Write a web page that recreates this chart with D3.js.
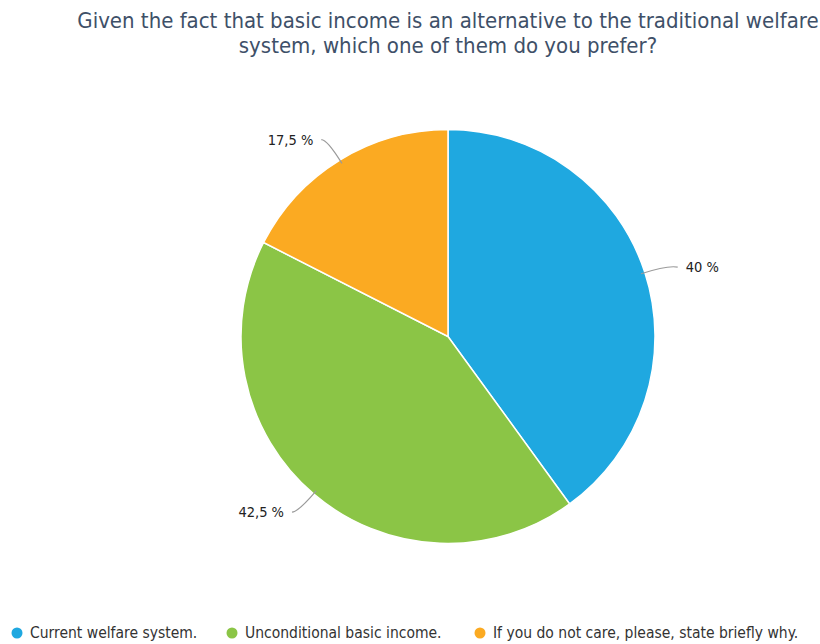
<!DOCTYPE html>
<html>
<head>
<meta charset="utf-8">
<script src="https://cdn.jsdelivr.net/npm/d3@7"></script>
<style>
  html, body { margin: 0; padding: 0; background: #ffffff; }
  svg { display: block; }
</style>
</head>
<body>
<div id="chart"></div>
<script>
// Survey answers and their shares (percent)
const categories = [
  "Current welfare system.",
  "Unconditional basic income.",
  "If you do not care, please, state briefly why."
];
const shares = [40, 42.5, 17.5];
const shareLabels = ["40 %", "42,5 %", "17,5 %"];
const colors = ["#1fa8e0", "#8bc546", "#fbaa22"];
const titleLines = [
  "Given the fact that basic income is an alternative to the traditional welfare",
  "system, which one of them do you prefer?"
];

const width = 820, height = 644;
const cx = 448, cy = 336.5, radius = 207;
const font = "'DejaVu Sans Condensed', 'DejaVu Sans', sans-serif";

const svg = d3.select("#chart").append("svg")
  .attr("width", width).attr("height", height);

// Title
const title = svg.append("text")
  .attr("text-anchor", "middle")
  .attr("font-family", font)
  .attr("font-stretch", "condensed")
  .attr("font-size", 22)
  .attr("fill", "#3e5068");
title.selectAll("tspan").data(titleLines).join("tspan")
  .attr("x", cx)
  .attr("y", (d, i) => 28 + i * 25)
  .text(d => d);

const data = categories.map((c, i) => ({ name: c, value: shares[i], label: shareLabels[i], color: colors[i] }));

const pie = d3.pie().value(d => d.value).sort(null);
const arcs = pie(data);
const arc = d3.arc().innerRadius(0).outerRadius(radius);

const g = svg.append("g").attr("transform", `translate(${cx},${cy})`);

// Slices
g.selectAll("path.slice").data(arcs).join("path")
  .attr("class", "slice")
  .attr("d", arc)
  .attr("fill", d => d.data.color)
  .attr("stroke", "#ffffff")
  .attr("stroke-width", 1.5);

// Leader lines and value labels
function polar(r, a) { return [r * Math.sin(a), -r * Math.cos(a)]; }
const labelInfo = arcs.map(d => {
  const mid = (d.startAngle + d.endAngle) / 2;
  const p0 = polar(radius - 4, mid);
  const p1 = polar(radius + 24, mid);
  const side = Math.sin(mid) >= 0 ? 1 : -1;
  const p2 = side > 0 ? [p1[0] + 10, p1[1] + 2] : [p1[0] - 6, p1[1]];
  return { d, p0, p1, p2, side };
});

g.selectAll("path.leader").data(labelInfo).join("path")
  .attr("class", "leader")
  .attr("fill", "none")
  .attr("stroke", "#9a9a9a")
  .attr("stroke-width", 1.2)
  .attr("d", l => `M${l.p0[0]},${l.p0[1]} Q${l.p1[0]},${l.p1[1]} ${l.p2[0]},${l.p2[1]}`);

g.selectAll("text.value").data(labelInfo).join("text")
  .attr("class", "value")
  .attr("x", l => l.p2[0] + l.side * 8)
  .attr("y", l => l.p2[1])
  .attr("dy", "0.35em")
  .attr("text-anchor", l => l.side > 0 ? "start" : "end")
  .attr("font-family", font)
  .attr("font-stretch", "condensed")
  .attr("font-size", 14.5)
  .attr("fill", "#222")
  .text(l => l.d.data.label);

// Legend
const legendX = [17, 232, 480];
const legend = svg.append("g");
const items = legend.selectAll("g").data(data).join("g")
  .attr("transform", (d, i) => `translate(${legendX[i]},633)`);
items.append("circle").attr("r", 5.5).attr("fill", d => d.color);
items.append("text")
  .attr("x", 13)
  .attr("dy", "0.35em")
  .attr("font-family", font)
  .attr("font-stretch", "condensed")
  .attr("font-size", 15.5)
  .attr("fill", "#333")
  .text(d => d.name);
</script>
</body>
</html>
